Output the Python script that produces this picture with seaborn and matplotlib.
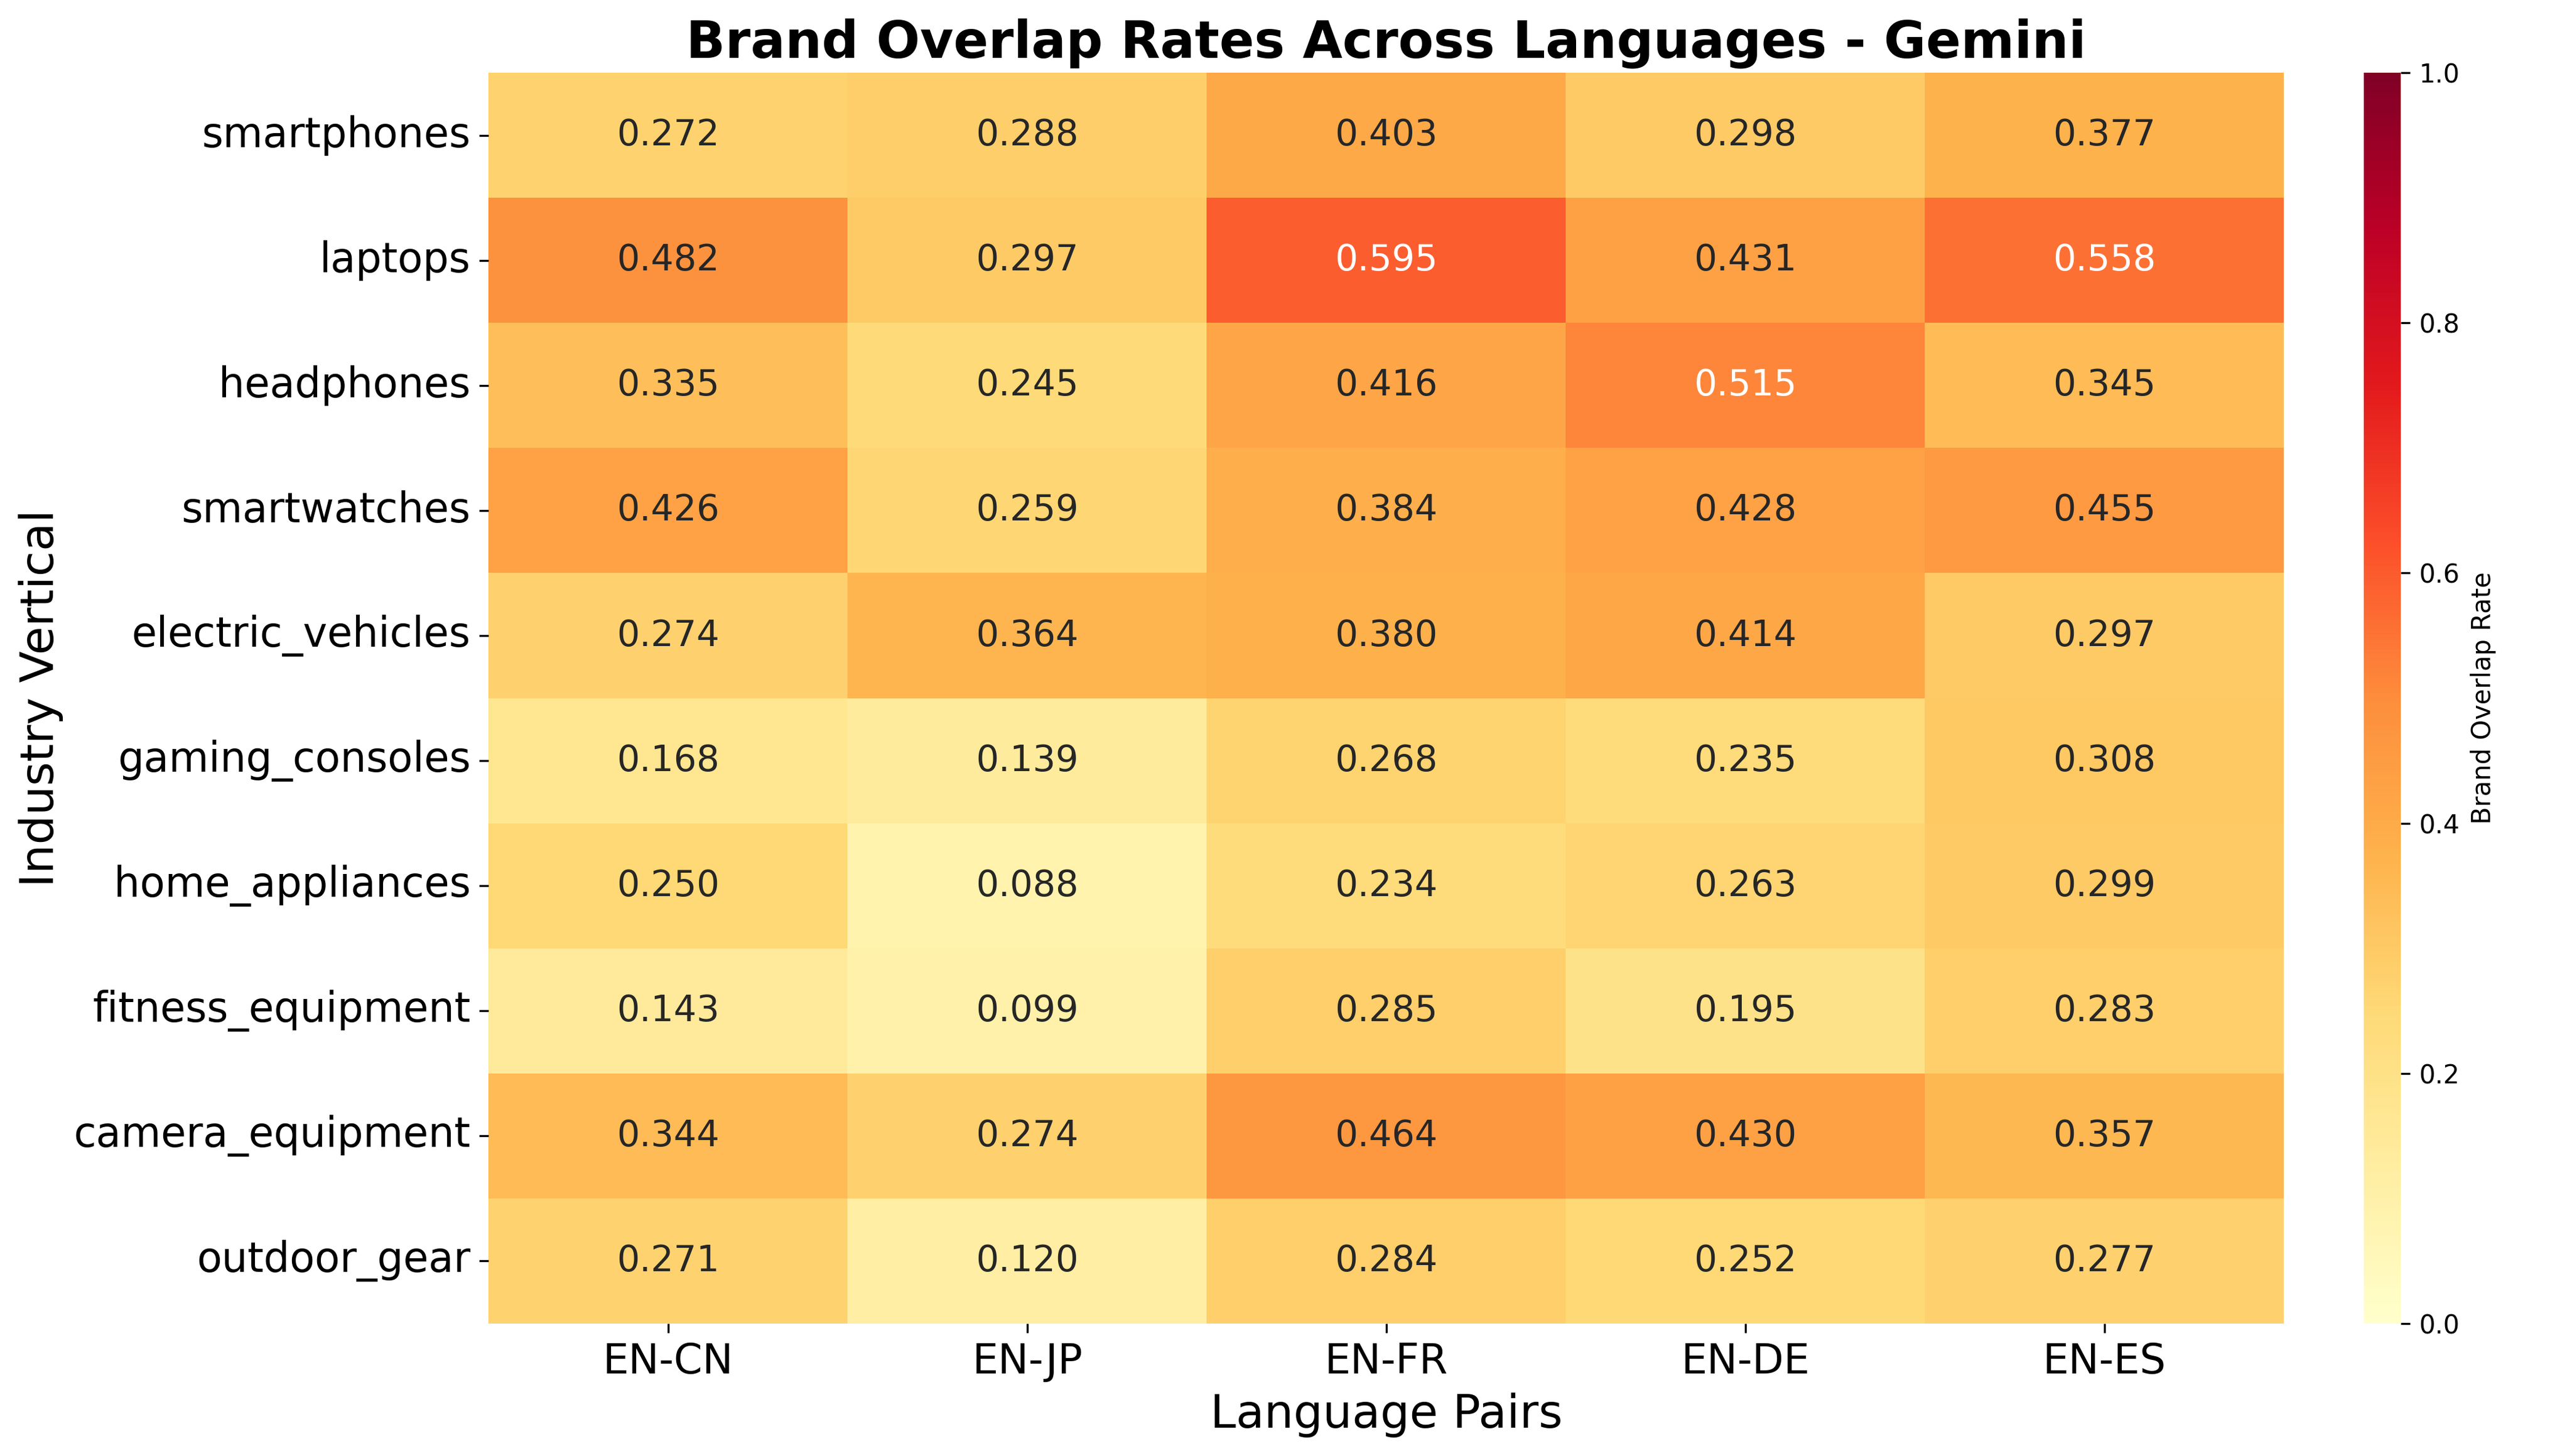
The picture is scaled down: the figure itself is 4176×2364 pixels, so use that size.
import numpy as np
import pandas as pd
import seaborn as sns
import matplotlib
matplotlib.use("Agg")
import matplotlib.pyplot as plt

verticals = ["smartphones", "laptops", "headphones", "smartwatches", "electric_vehicles",
             "gaming_consoles", "home_appliances", "fitness_equipment", "camera_equipment", "outdoor_gear"]
pairs = ["EN-CN", "EN-JP", "EN-FR", "EN-DE", "EN-ES"]

en_cn = [0.272, 0.482, 0.335, 0.426, 0.274, 0.168, 0.250, 0.143, 0.344, 0.271]
en_jp = [0.288, 0.297, 0.245, 0.259, 0.364, 0.139, 0.088, 0.099, 0.274, 0.120]
en_fr = [0.403, 0.595, 0.416, 0.384, 0.380, 0.268, 0.234, 0.285, 0.464, 0.284]
en_de = [0.298, 0.431, 0.515, 0.428, 0.414, 0.235, 0.263, 0.195, 0.430, 0.252]
en_es = [0.377, 0.558, 0.345, 0.455, 0.297, 0.308, 0.299, 0.283, 0.357, 0.277]

df = pd.DataFrame({"EN-CN": en_cn, "EN-JP": en_jp, "EN-FR": en_fr, "EN-DE": en_de, "EN-ES": en_es},
                  index=verticals)[pairs]

fig = plt.figure(figsize=(13.92, 7.88), dpi=300)
ax = fig.add_axes([0.190, 0.091, 0.698, 0.859])
cax = fig.add_axes([0.919, 0.091, 0.0145, 0.859])

sns.heatmap(df, ax=ax, cbar_ax=cax, cmap="YlOrRd", vmin=0, vmax=1, annot=True, fmt=".3f",
            annot_kws={"size": 14}, cbar_kws={"label": "Brand Overlap Rate"})

ax.set_title("Brand Overlap Rates Across Languages - Gemini", fontsize=20, fontweight="bold")
ax.set_xlabel("Language Pairs", fontsize=18)
ax.set_ylabel("Industry Vertical", fontsize=18)
ax.tick_params(axis="x", labelsize=16, rotation=0)
ax.tick_params(axis="y", labelsize=16, rotation=0)
cax.tick_params(labelsize=10)
cax.yaxis.label.set_size(10)

fig.savefig("out.png", dpi=300)
